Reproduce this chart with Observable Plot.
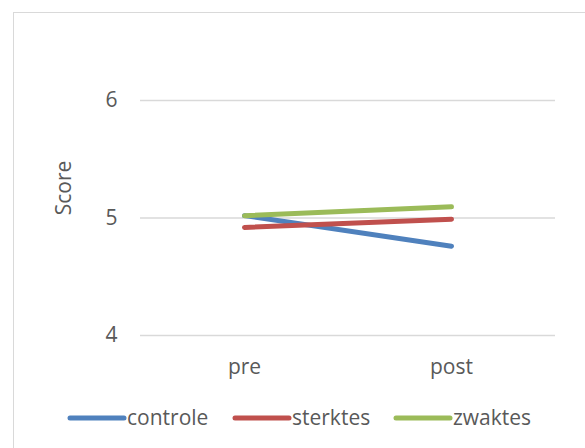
<!DOCTYPE html>
<html>
<head>
<meta charset="utf-8">
<script src="https://cdn.jsdelivr.net/npm/d3@7"></script>
<script src="https://cdn.jsdelivr.net/npm/@observablehq/plot@0.6"></script>
<style>
  html, body { margin: 0; padding: 0; background: #fff; overflow: hidden; }
  #wrap { position: relative; width: 585px; height: 448px; overflow: hidden; }
  #border { position: absolute; left: 13px; top: 12px; width: 572px; height: 436px; border-left: 1.5px solid #d9d9d9; border-top: 1.5px solid #d9d9d9; box-sizing: border-box; }
  #chart { position: absolute; left: 0; top: 0; }
</style>
</head>
<body>
<div id="wrap"><div id="border"></div><div id="chart"></div></div>
<script>
const moments = ["pre", "post"];
const groups = ["controle", "sterktes", "zwaktes"];
const colors = ["#4F81BD", "#C0504D", "#9BBB59"];
const controle = [5.02, 4.76];
const sterktes = [4.92, 4.99];
const zwaktes = [5.02, 5.095];
const yTicks = [4, 5, 6];
const yLabel = "Score";

const series = { controle, sterktes, zwaktes };
const rows = groups.flatMap(g => moments.map((m, i) => ({ group: g, moment: m, score: series[g][i] })));

const font = "'Open Sans', sans-serif";
const fs = "21px";
const plot = Plot.plot({
  width: 585,
  height: 448,
  marginLeft: 140,
  marginRight: 30,
  marginTop: 100,
  marginBottom: 113,
  style: { fontFamily: font, fontSize: fs, color: "#595959", background: "transparent" },
  x: { type: "point", domain: moments, padding: 0.5, label: null },
  y: { domain: [4, 6], ticks: yTicks, label: null },
  color: { domain: groups, range: colors },
  marks: [
    Plot.ruleY(yTicks, { stroke: "#d9d9d9", strokeWidth: 1.5 }),
    Plot.axisY({ ticks: yTicks, tickFormat: d3.format("d"), tickSize: 0, tickPadding: 23, label: null }),
    Plot.axisX({ tickSize: 0, tickPadding: 24, label: null }),
    Plot.line(rows, { x: "moment", y: "score", z: "group", stroke: "group", strokeWidth: 5, strokeLinecap: "round" })
  ]
});
document.getElementById("chart").appendChild(plot);

const svg = d3.select(plot);
svg.append("text")
  .attr("transform", "translate(64,188) rotate(-90)")
  .attr("text-anchor", "middle")
  .attr("dy", "0.35em")
  .style("font-family", font)
  .style("font-size", fs)
  .attr("fill", "#595959")
  .text(yLabel);

const legendX = [70, 235, 396];
const lg = svg.append("g").style("font-family", font).style("font-size", fs).attr("fill", "#595959").attr("text-anchor", "start");
groups.forEach((g, i) => {
  const x0 = legendX[i];
  lg.append("line").attr("x1", x0).attr("x2", x0 + 54).attr("y1", 418).attr("y2", 418)
    .attr("stroke", colors[i]).attr("stroke-width", 5).attr("stroke-linecap", "round");
  lg.append("text").attr("x", x0 + 57).attr("y", 418).attr("dy", "0.35em").text(g);
});
</script>
</body>
</html>
